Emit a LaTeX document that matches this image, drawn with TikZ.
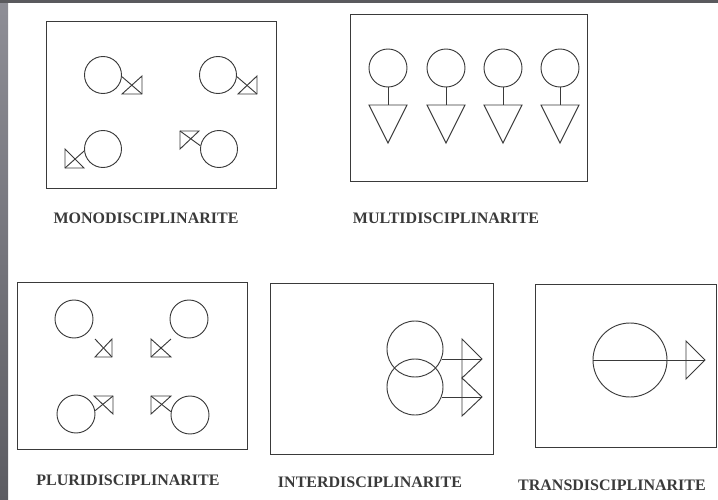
\documentclass[tikz,border=0pt]{standalone}
\usepackage{fontspec}
\setmainfont{Liberation Serif}
\usetikzlibrary{calc}

\definecolor{bordhaut}{HTML}{8E8E96}
\definecolor{bordbas}{HTML}{5C5C62}
\definecolor{bandeau}{HTML}{5A5A5E}
\definecolor{encre}{HTML}{3A3A3A}

\tikzset{
  trait/.style={draw=encre, line width=0.7pt},
  cadre/.style={trait},
  disque/.style={circle, trait, inner sep=0pt, minimum size=#1},
  titre/.style={font=\bfseries\fontsize{12}{14}\selectfont, text=encre},
}

% equerre : angle droit en #1, cotes (#2,0) et (0,#3)
\newcommand{\equerre}[3]{%
  \draw[trait] (#1) -- ($(#1)+(#2,0)$) -- ($(#1)+(0,#3)$) -- cycle;}

\begin{document}
\begin{tikzpicture}[x=0.75pt, y=-0.75pt]
    \useasboundingbox (0,0) rectangle (718,500);

    % Bordure grise de la diapositive
    \fill[top color=bordhaut, bottom color=bordbas] (0,0) rectangle (8,500);
    \fill[bandeau] (0,0) rectangle (718,3);

    % ==================== MONODISCIPLINARITE ====================
    \draw[cadre] (46,21) rectangle (276,188);
    \node[disque=27.75pt] (a1) at (103,75) {};
    \node[disque=27.75pt] (a2) at (218,75) {};
    \node[disque=27.75pt] (a3) at (103,149) {};
    \node[disque=27.75pt] (a4) at (219,149) {};
    \coordinate (pa1) at (142,94);
    \coordinate (pa2) at (257,94);
    \coordinate (pa3) at (65,168);
    \coordinate (pa4) at (180,131);
    \equerre{pa1}{-20}{-18}
    \equerre{pa2}{-19}{-18}
    \equerre{pa3}{19}{-19}
    \equerre{pa4}{19}{18}
    \draw[trait] (a1.-5) -- (pa1);
    \draw[trait] (a2.-5) -- (pa2);
    \draw[trait] (a3.186) -- (pa3);
    \draw[trait] (a4.170) -- (pa4);
    \node[titre] (tmono) at (146,218) {MONODISCIPLINARITE};

    % ==================== MULTIDISCIPLINARITE ====================
    \draw[cadre] (350,14) rectangle (587,181);
    \foreach \x [count=\i] in {388,446,503,560} {
        \node[disque=28.5pt] (b\i) at (\x,68) {};
        \coordinate (pb\i) at (\x,105);
        \draw[trait] (b\i.south) -- (pb\i);
        \draw[trait] ($(pb\i)+(-19,0)$) -- ($(pb\i)+(19,0)$) -- ($(pb\i)+(0,38)$) -- cycle;
    }
    \node[titre] (tmulti) at (446,218) {MULTIDISCIPLINARITE};

    % ==================== PLURIDISCIPLINARITE ====================
    \draw[cadre] (17,282) rectangle (247,449);
    \node[disque=28.5pt] (c1) at (74,319) {};
    \node[disque=28.5pt] (c2) at (189,319) {};
    \node[disque=28.5pt] (c3) at (76,414) {};
    \node[disque=28.5pt] (c4) at (190,415) {};
    \coordinate (pc1) at (112,357);
    \coordinate (pc2) at (151,357);
    \coordinate (pc3) at (113,396);
    \coordinate (pc4) at (151,396);
    \coordinate (qc1) at (95,339);
    \coordinate (qc2) at (171,339);
    \equerre{pc1}{-17}{-18}
    \equerre{pc2}{20}{-18}
    \equerre{pc3}{-19}{18}
    \equerre{pc4}{20}{18}
    \draw[trait] (qc1) -- (pc1);
    \draw[trait] (qc2) -- (pc2);
    \draw[trait] (c3.10) -- (pc3);
    \draw[trait] (c4.170) -- (pc4);
    \node[titre] (tpluri) at (128,480) {PLURIDISCIPLINARITE};

    % ==================== INTERDISCIPLINARITE ====================
    \draw[cadre] (270,283) rectangle (493,454);
    \node[disque=42pt] (d1) at (415,349) {};
    \node[disque=42pt] (d2) at (415,387) {};
    \coordinate (pd1) at (482,359);
    \coordinate (pd2) at (482,397);
    \draw[trait] (462,339) -- (462,378) -- (pd1) -- cycle;
    \draw[trait] (462,378) -- (462,416) -- (pd2) -- cycle;
    \draw[trait] (d1.-21) -- (d1.-21 -| pd1);
    \draw[trait] (d2.-21) -- (d2.-21 -| pd2);
    \node[titre] (tinter) at (370,482) {INTERDISCIPLINARITE};

    % ==================== TRANSDISCIPLINARITE ====================
    \draw[cadre] (535,284) rectangle (716,447);
    \node[disque=55.5pt] (e1) at (630,360) {};
    \coordinate (pe1) at (705,360);
    \draw[trait] (686,341) -- (686,379) -- (pe1) -- cycle;
    \draw[trait] (e1.west) -- (pe1);
    \node[titre] (ttrans) at (612,485) {TRANSDISCIPLINARITE};
\end{tikzpicture}
\end{document}
